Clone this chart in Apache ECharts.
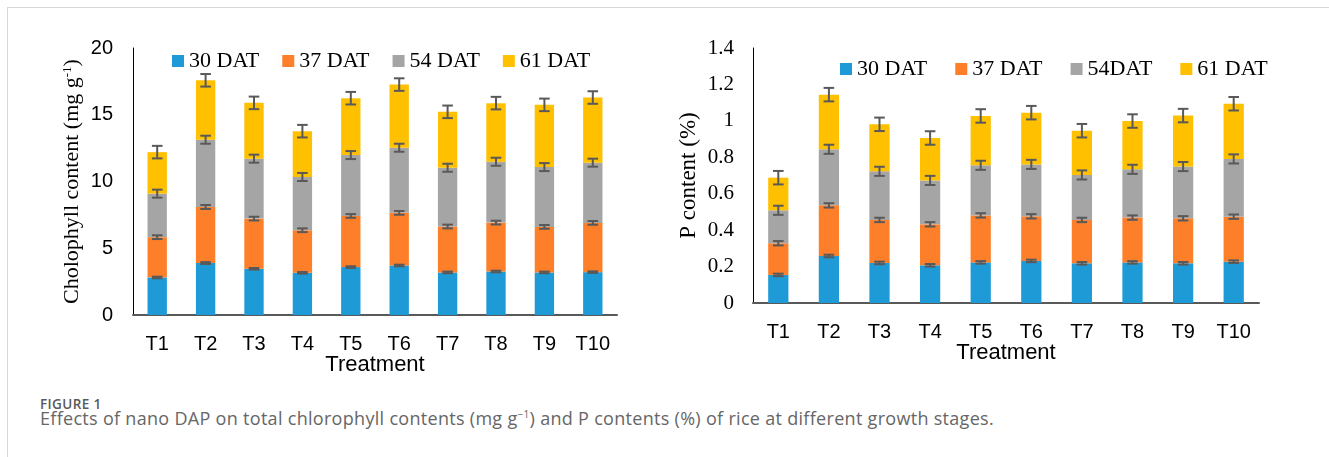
<!DOCTYPE html>
<html>
<head>
<meta charset="utf-8">
<script src="https://cdn.jsdelivr.net/npm/echarts@6/dist/echarts.min.js"></script>
<style>
  body { margin: 0; background: #fff; }
  #frame {
    position: absolute; left: 7px; top: 7px; right: 0; bottom: 0;
    border-top: 1px solid #d8d8d8; border-left: 1px solid #d8d8d8;
  }
  #chart { position: absolute; left: 0; top: 0; width: 1329px; height: 390px; }
  .cap-title {
    position: absolute; left: 40px; top: 398px; line-height: 12px;
    font-family: 'Open Sans', sans-serif; font-size: 13.5px; font-weight: 600;
    color: #595959; letter-spacing: 0.4px;
  }
  .cap-text {
    position: absolute; left: 40px; top: 411px; line-height: 15px;
    font-family: 'Open Sans', sans-serif; font-size: 18px; color: #666;
    letter-spacing: 0.3px; white-space: nowrap;
  }
  .cap-text sup { font-size: 10px; vertical-align: 7px; line-height: 0; }
</style>
</head>
<body>
<div id="frame"></div>
<div id="chart"></div>
<div class="cap-title">FIGURE 1</div>
<div class="cap-text">Effects of nano DAP on total chlorophyll contents (mg g<sup>−1</sup>) and P contents (%) of rice at different growth stages.</div>
<script>
// 处理 T1 ~ T10
var categories = ['T1', 'T2', 'T3', 'T4', 'T5', 'T6', 'T7', 'T8', 'T9', 'T10'];

// 左图：叶绿素含量 (mg g-1)，各时期的分段值
var chl30 = [2.81, 3.89, 3.46, 3.16, 3.59, 3.71, 3.19, 3.26, 3.19, 3.21];
var chl37 = [3.02, 4.20, 3.76, 3.19, 3.83, 3.94, 3.44, 3.66, 3.41, 3.69];
var chl54 = [3.26, 5.04, 4.49, 3.99, 4.56, 4.88, 4.40, 4.56, 4.48, 4.51];
var chl61 = [3.11, 4.45, 4.18, 3.43, 4.26, 4.73, 4.19, 4.39, 4.66, 4.88];
// 误差线（半长）
var chlErr30 = [0.06, 0.07, 0.06, 0.06, 0.06, 0.06, 0.06, 0.06, 0.06, 0.06];
var chlErr37 = [0.14, 0.15, 0.14, 0.14, 0.14, 0.14, 0.14, 0.14, 0.14, 0.14];
var chlErr54 = [0.30, 0.30, 0.30, 0.30, 0.30, 0.30, 0.30, 0.30, 0.30, 0.30];
var chlErr61 = [0.47, 0.47, 0.47, 0.47, 0.47, 0.47, 0.47, 0.47, 0.47, 0.47];

// 右图：P 含量 (%)
var p30 = [0.154, 0.258, 0.220, 0.207, 0.223, 0.231, 0.218, 0.223, 0.218, 0.227];
var p37 = [0.174, 0.278, 0.236, 0.225, 0.258, 0.245, 0.238, 0.246, 0.247, 0.247];
var p54 = [0.181, 0.308, 0.267, 0.241, 0.275, 0.285, 0.247, 0.265, 0.284, 0.317];
var p61 = [0.179, 0.300, 0.258, 0.233, 0.271, 0.284, 0.243, 0.265, 0.280, 0.303];
var pErr30 = [0.007, 0.007, 0.007, 0.007, 0.007, 0.007, 0.007, 0.007, 0.007, 0.007];
var pErr37 = [0.012, 0.012, 0.012, 0.012, 0.012, 0.012, 0.012, 0.012, 0.012, 0.012];
var pErr54 = [0.025, 0.025, 0.025, 0.025, 0.025, 0.025, 0.025, 0.025, 0.025, 0.025];
var pErr61 = [0.037, 0.037, 0.037, 0.037, 0.037, 0.037, 0.037, 0.037, 0.037, 0.037];

var chlNames = ['30 DAT', '37 DAT', '54 DAT', '61 DAT'];
var pNames = ['30 DAT', '37 DAT', '54DAT', '61 DAT'];
// y 轴刻度
var chlAxis = { min: 0, max: 20, interval: 5 };
var pAxis = { min: 0, max: 1.4, interval: 0.2 };

var colors = ['#1e9ad6', '#fe7f2a', '#a5a5a5', '#ffc000'];
var serif = "'Liberation Serif', 'Times New Roman', serif";
var sans = "'Liberation Sans', Arial, sans-serif";

// 误差线：竖线 + 上下横线
function errRender(params, api) {
  var idx = api.value(0);
  var top = api.coord([idx, api.value(1) + api.value(2)]);
  var bot = api.coord([idx, api.value(1) - api.value(2)]);
  var x = top[0];
  var w = 5.3;
  var st = { stroke: '#595959', lineWidth: 2 };
  return {
    type: 'group',
    children: [
      { type: 'line', shape: { x1: x, y1: top[1], x2: x, y2: bot[1] }, style: st },
      { type: 'line', shape: { x1: x - w, y1: top[1], x2: x + w, y2: top[1] }, style: st },
      { type: 'line', shape: { x1: x - w, y1: bot[1], x2: x + w, y2: bot[1] }, style: st }
    ]
  };
}

function buildSeries(names, groups, errs, axisIdx) {
  var out = [];
  var cum = categories.map(function () { return 0; });
  groups.forEach(function (vals, i) {
    out.push({
      name: names[i],
      type: 'bar',
      stack: 'g' + axisIdx,
      xAxisIndex: axisIdx,
      yAxisIndex: axisIdx,
      barWidth: '40%',
      animation: false,
      itemStyle: { color: colors[i] },
      data: vals
    });
    cum = cum.map(function (c, k) { return c + vals[k]; });
    var errData = cum.map(function (c, k) { return [k, c, errs[i][k]]; });
    out.push({
      type: 'custom',
      xAxisIndex: axisIdx,
      yAxisIndex: axisIdx,
      renderItem: errRender,
      encode: { x: 0, y: 1 },
      z: 5,
      silent: true,
      animation: false,
      data: errData
    });
  });
  return out;
}

function xAxisOpt(gridIdx) {
  return {
    type: 'category',
    gridIndex: gridIdx,
    data: categories,
    name: 'Treatment',
    nameLocation: 'middle',
    nameGap: 39,
    nameMoveOverlap: false,
    nameTextStyle: { fontFamily: sans, fontSize: 22, color: '#000' },
    axisLine: { lineStyle: { color: '#595959', width: 2 } },
    axisTick: { show: false },
    axisLabel: { fontFamily: sans, fontSize: 20, color: '#000', margin: 19 }
  };
}

var chartDom = document.getElementById('chart');
var myChart = echarts.init(chartDom);
var option = {
  animation: false,
  grid: [
    { left: 133, top: 48, width: 484, height: 267 },
    { left: 753, top: 48, width: 506, height: 255 }
  ],
  legend: [
    {
      data: chlNames, left: 167, top: 45, itemGap: 23, itemWidth: 12, itemHeight: 12,
      icon: 'rect', textStyle: { fontFamily: serif, fontSize: 22, color: '#000' }
    },
    {
      data: pNames, left: 835, top: 53, itemGap: 28, itemWidth: 12, itemHeight: 12,
      icon: 'rect', textStyle: { fontFamily: serif, fontSize: 22, color: '#000' }
    }
  ],
  xAxis: [xAxisOpt(0), xAxisOpt(1)],
  yAxis: [
    {
      type: 'value',
      gridIndex: 0,
      min: chlAxis.min, max: chlAxis.max, interval: chlAxis.interval,
      name: '{a|Cholophyll content (mg g}{s|-1}{a|)}',
      nameLocation: 'middle',
      nameGap: 50,
      nameMoveOverlap: false,
      nameTextStyle: {
        rich: {
          a: { fontFamily: serif, fontSize: 22, color: '#000', lineHeight: 22 },
          s: { fontFamily: serif, fontSize: 13, color: '#000', lineHeight: 22, verticalAlign: 'top' }
        }
      },
      axisLine: { show: true, lineStyle: { color: '#000', width: 1 } },
      axisTick: { show: false },
      splitLine: { show: false },
      axisLabel: { fontFamily: sans, fontSize: 20, color: '#000', margin: 20 }
    },
    {
      type: 'value',
      gridIndex: 1,
      min: pAxis.min, max: pAxis.max, interval: pAxis.interval,
      name: 'P content (%)',
      nameLocation: 'middle',
      nameGap: 53,
      nameMoveOverlap: false,
      nameTextStyle: { fontFamily: serif, fontSize: 23, color: '#000' },
      axisLine: { show: true, lineStyle: { color: '#000', width: 1 } },
      axisTick: { show: false },
      splitLine: { show: false },
      axisLabel: { fontFamily: serif, fontSize: 21, color: '#000', margin: 19 }
    }
  ],
  series: buildSeries(chlNames, [chl30, chl37, chl54, chl61], [chlErr30, chlErr37, chlErr54, chlErr61], 0)
    .concat(buildSeries(pNames, [p30, p37, p54, p61], [pErr30, pErr37, pErr54, pErr61], 1))
};
option && myChart.setOption(option);
</script>
</body>
</html>
